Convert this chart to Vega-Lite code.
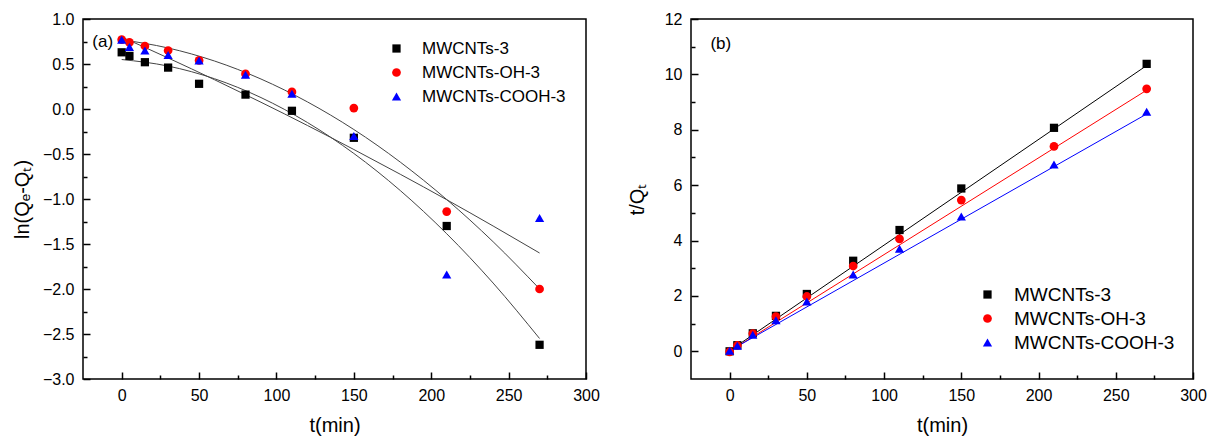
{
  "$schema": "https://vega.github.io/schema/vega-lite/v6.json",
  "padding": {"left": 11, "top": 10, "right": 5, "bottom": 5},
  "background": "white",
  "config": {
    "font": "Liberation Sans",
    "view": {"stroke": "#000", "strokeWidth": 1.5},
    "axis": {
      "grid": false, "domain": false, "tickColor": "#000", "tickWidth": 1.5,
      "labelColor": "#000", "titleColor": "#000", "labelFont": "Liberation Sans", "titleFont": "Liberation Sans",
      "labelFontSize": 16, "titleFontSize": 20, "titleFontWeight": "normal", "labelFlush": false, "labelOverlap": false
    },
    "legend": {"labelFont": "Liberation Sans", "labelColor": "#000", "symbolOpacity": 1, "symbolStrokeWidth": 0, "padding": 0, "labelLimit": 300}
  },
  "datasets": {
    "lnPts": [
      {"series": "MWCNTs-3", "t": 0, "v": 0.63}, {"series": "MWCNTs-3", "t": 5, "v": 0.59}, {"series": "MWCNTs-3", "t": 15, "v": 0.52}, {"series": "MWCNTs-3", "t": 30, "v": 0.46}, {"series": "MWCNTs-3", "t": 50, "v": 0.28}, {"series": "MWCNTs-3", "t": 80, "v": 0.16}, {"series": "MWCNTs-3", "t": 110, "v": -0.02}, {"series": "MWCNTs-3", "t": 150, "v": -0.32}, {"series": "MWCNTs-3", "t": 210, "v": -1.30}, {"series": "MWCNTs-3", "t": 270, "v": -2.62},
      {"series": "MWCNTs-OH-3", "t": 0, "v": 0.77}, {"series": "MWCNTs-OH-3", "t": 5, "v": 0.74}, {"series": "MWCNTs-OH-3", "t": 15, "v": 0.70}, {"series": "MWCNTs-OH-3", "t": 30, "v": 0.65}, {"series": "MWCNTs-OH-3", "t": 50, "v": 0.54}, {"series": "MWCNTs-OH-3", "t": 80, "v": 0.39}, {"series": "MWCNTs-OH-3", "t": 110, "v": 0.19}, {"series": "MWCNTs-OH-3", "t": 150, "v": 0.01}, {"series": "MWCNTs-OH-3", "t": 210, "v": -1.14}, {"series": "MWCNTs-OH-3", "t": 270, "v": -2.0},
      {"series": "MWCNTs-COOH-3", "t": 0, "v": 0.77}, {"series": "MWCNTs-COOH-3", "t": 5, "v": 0.69}, {"series": "MWCNTs-COOH-3", "t": 15, "v": 0.65}, {"series": "MWCNTs-COOH-3", "t": 30, "v": 0.60}, {"series": "MWCNTs-COOH-3", "t": 50, "v": 0.54}, {"series": "MWCNTs-COOH-3", "t": 80, "v": 0.38}, {"series": "MWCNTs-COOH-3", "t": 110, "v": 0.17}, {"series": "MWCNTs-COOH-3", "t": 150, "v": -0.30}, {"series": "MWCNTs-COOH-3", "t": 210, "v": -1.84}, {"series": "MWCNTs-COOH-3", "t": 270, "v": -1.21}
    ],
    "lnFit": [
      {"series": "MWCNTs-3", "t": 0, "v": 0.55}, {"series": "MWCNTs-3", "t": 30, "v": 0.477}, {"series": "MWCNTs-3", "t": 60, "v": 0.336}, {"series": "MWCNTs-3", "t": 90, "v": 0.127}, {"series": "MWCNTs-3", "t": 120, "v": -0.15}, {"series": "MWCNTs-3", "t": 150, "v": -0.494}, {"series": "MWCNTs-3", "t": 180, "v": -0.906}, {"series": "MWCNTs-3", "t": 210, "v": -1.386}, {"series": "MWCNTs-3", "t": 240, "v": -1.934}, {"series": "MWCNTs-3", "t": 270, "v": -2.55},
      {"series": "MWCNTs-OH-3", "t": 0, "v": 0.77}, {"series": "MWCNTs-OH-3", "t": 30, "v": 0.678}, {"series": "MWCNTs-OH-3", "t": 60, "v": 0.533}, {"series": "MWCNTs-OH-3", "t": 90, "v": 0.333}, {"series": "MWCNTs-OH-3", "t": 120, "v": 0.079}, {"series": "MWCNTs-OH-3", "t": 150, "v": -0.228}, {"series": "MWCNTs-OH-3", "t": 180, "v": -0.59}, {"series": "MWCNTs-OH-3", "t": 210, "v": -1.006}, {"series": "MWCNTs-OH-3", "t": 240, "v": -1.475}, {"series": "MWCNTs-OH-3", "t": 270, "v": -1.999},
      {"series": "MWCNTs-COOH-3", "t": 0, "v": 0.80}, {"series": "MWCNTs-COOH-3", "t": 30, "v": 0.567}, {"series": "MWCNTs-COOH-3", "t": 60, "v": 0.325}, {"series": "MWCNTs-COOH-3", "t": 90, "v": 0.075}, {"series": "MWCNTs-COOH-3", "t": 120, "v": -0.183}, {"series": "MWCNTs-COOH-3", "t": 150, "v": -0.45}, {"series": "MWCNTs-COOH-3", "t": 180, "v": -0.725}, {"series": "MWCNTs-COOH-3", "t": 210, "v": -1.008}, {"series": "MWCNTs-COOH-3", "t": 240, "v": -1.30}, {"series": "MWCNTs-COOH-3", "t": 270, "v": -1.60}
    ],
    "tPts": [
      {"series": "MWCNTs-3", "t": 0, "v": 0.0}, {"series": "MWCNTs-3", "t": 5, "v": 0.22}, {"series": "MWCNTs-3", "t": 15, "v": 0.65}, {"series": "MWCNTs-3", "t": 30, "v": 1.28}, {"series": "MWCNTs-3", "t": 50, "v": 2.07}, {"series": "MWCNTs-3", "t": 80, "v": 3.27}, {"series": "MWCNTs-3", "t": 110, "v": 4.38}, {"series": "MWCNTs-3", "t": 150, "v": 5.88}, {"series": "MWCNTs-3", "t": 210, "v": 8.07}, {"series": "MWCNTs-3", "t": 270, "v": 10.38},
      {"series": "MWCNTs-OH-3", "t": 0, "v": -0.02}, {"series": "MWCNTs-OH-3", "t": 5, "v": 0.21}, {"series": "MWCNTs-OH-3", "t": 15, "v": 0.64}, {"series": "MWCNTs-OH-3", "t": 30, "v": 1.25}, {"series": "MWCNTs-OH-3", "t": 50, "v": 1.98}, {"series": "MWCNTs-OH-3", "t": 80, "v": 3.08}, {"series": "MWCNTs-OH-3", "t": 110, "v": 4.06}, {"series": "MWCNTs-OH-3", "t": 150, "v": 5.46}, {"series": "MWCNTs-OH-3", "t": 210, "v": 7.40}, {"series": "MWCNTs-OH-3", "t": 270, "v": 9.48},
      {"series": "MWCNTs-COOH-3", "t": 0, "v": 0.02}, {"series": "MWCNTs-COOH-3", "t": 5, "v": 0.20}, {"series": "MWCNTs-COOH-3", "t": 15, "v": 0.60}, {"series": "MWCNTs-COOH-3", "t": 30, "v": 1.12}, {"series": "MWCNTs-COOH-3", "t": 50, "v": 1.80}, {"series": "MWCNTs-COOH-3", "t": 80, "v": 2.77}, {"series": "MWCNTs-COOH-3", "t": 110, "v": 3.70}, {"series": "MWCNTs-COOH-3", "t": 150, "v": 4.87}, {"series": "MWCNTs-COOH-3", "t": 210, "v": 6.75}, {"series": "MWCNTs-COOH-3", "t": 270, "v": 8.65}
    ],
    "tFit": [
      {"series": "MWCNTs-3", "t": 0, "v": 0.02}, {"series": "MWCNTs-3", "t": 270, "v": 10.32},
      {"series": "MWCNTs-OH-3", "t": 0, "v": 0.0}, {"series": "MWCNTs-OH-3", "t": 270, "v": 9.43},
      {"series": "MWCNTs-COOH-3", "t": 0, "v": 0.02}, {"series": "MWCNTs-COOH-3", "t": 270, "v": 8.57}
    ]
  },
  "hconcat": [
    {
      "width": 503,
      "height": 360,
      "resolve": {"axis": {"x": "independent", "y": "independent"}},
      "layer": [
        {
          "data": {"name": "lnFit"},
          "mark": {"type": "line", "color": "#444444", "strokeWidth": 1, "interpolate": "monotone"},
          "encoding": {
            "x": {"field": "t", "type": "quantitative", "scale": {"domain": [-25, 300], "nice": false, "zero": false}, "axis": {"orient": "bottom", "values": [25, 75, 125, 175, 225, 275], "labels": false, "offset": -4, "tickSize": 4, "title": null}},
            "y": {"field": "v", "type": "quantitative", "scale": {"domain": [-3, 1], "nice": false, "zero": false}, "axis": {"orient": "left", "values": [-2.75, -2.25, -1.75, -1.25, -0.75, -0.25, 0.25, 0.75], "labels": false, "offset": -4, "tickSize": 4, "title": null}},
            "detail": {"field": "series"}
          }
        },
        {
          "data": {"name": "lnPts"},
          "mark": {"type": "point", "filled": true, "opacity": 1, "strokeWidth": 0},
          "encoding": {
            "x": {"field": "t", "type": "quantitative", "axis": {"orient": "bottom", "values": [0, 50, 100, 150, 200, 250, 300], "offset": -7, "tickSize": 7, "labelPadding": 8, "title": "t(min)", "titlePadding": 12}},
            "y": {"field": "v", "type": "quantitative", "axis": {"orient": "left", "values": [-3, -2.5, -2, -1.5, -1, -0.5, 0, 0.5, 1], "format": ".1f", "offset": -7, "tickSize": 7, "labelPadding": 9, "title": "ln(Qₑ-Qₜ)", "titlePadding": 10}},
            "color": {"field": "series", "type": "nominal", "scale": {"domain": ["MWCNTs-3", "MWCNTs-OH-3", "MWCNTs-COOH-3"], "range": ["#000000", "#ff0000", "#0000ff"]}, "legend": {"title": null, "orient": "none", "legendX": 305, "legendY": 21, "labelFontSize": 17, "rowPadding": 6, "labelOffset": 17}},
            "shape": {"field": "series", "type": "nominal", "scale": {"domain": ["MWCNTs-3", "MWCNTs-OH-3", "MWCNTs-COOH-3"], "range": ["square", "circle", "triangle-up"]}, "legend": {"title": null, "orient": "none", "legendX": 305, "legendY": 21, "labelFontSize": 17, "rowPadding": 6, "labelOffset": 17}},
            "size": {"field": "series", "type": "nominal", "scale": {"domain": ["MWCNTs-3", "MWCNTs-OH-3", "MWCNTs-COOH-3"], "range": [68, 85, 105]}, "legend": {"title": null, "orient": "none", "legendX": 305, "legendY": 21, "labelFontSize": 17, "rowPadding": 6, "labelOffset": 17}}
          }
        },
        {
          "data": {"values": [{"t": -19, "v": 0.75, "label": "(a)"}]},
          "mark": {"type": "text", "align": "left", "baseline": "middle", "fontSize": 17, "font": "Liberation Sans", "color": "#000"},
          "encoding": {
            "x": {"field": "t", "type": "quantitative", "axis": null},
            "y": {"field": "v", "type": "quantitative", "axis": null},
            "text": {"field": "label"}
          }
        }
      ]
    },
    {
      "width": 502,
      "height": 360,
      "resolve": {"axis": {"x": "independent", "y": "independent"}},
      "layer": [
        {
          "data": {"name": "tFit"},
          "transform": [{"filter": "datum.series === 'MWCNTs-3'"}],
          "mark": {"type": "line", "strokeWidth": 1, "color": "#000000"},
          "encoding": {
            "x": {"field": "t", "type": "quantitative", "scale": {"domain": [-25, 300], "nice": false, "zero": false}, "axis": {"orient": "bottom", "values": [25, 75, 125, 175, 225, 275], "labels": false, "offset": -4, "tickSize": 4, "title": null}},
            "y": {"field": "v", "type": "quantitative", "scale": {"domain": [-1, 12], "nice": false, "zero": false}, "axis": {"orient": "left", "values": [1, 3, 5, 7, 9, 11], "labels": false, "offset": -4, "tickSize": 4, "title": null}}
          }
        },
        {
          "data": {"name": "tFit"},
          "transform": [{"filter": "datum.series === 'MWCNTs-OH-3'"}],
          "mark": {"type": "line", "strokeWidth": 1, "color": "#ff0000"},
          "encoding": {
            "x": {"field": "t", "type": "quantitative", "axis": null},
            "y": {"field": "v", "type": "quantitative", "axis": null}
          }
        },
        {
          "data": {"name": "tFit"},
          "transform": [{"filter": "datum.series === 'MWCNTs-COOH-3'"}],
          "mark": {"type": "line", "strokeWidth": 1, "color": "#0000ff"},
          "encoding": {
            "x": {"field": "t", "type": "quantitative", "axis": null},
            "y": {"field": "v", "type": "quantitative", "axis": null}
          }
        },
        {
          "data": {"name": "tPts"},
          "mark": {"type": "point", "filled": true, "opacity": 1, "strokeWidth": 0},
          "encoding": {
            "x": {"field": "t", "type": "quantitative", "axis": {"orient": "bottom", "values": [0, 50, 100, 150, 200, 250, 300], "offset": -7, "tickSize": 7, "labelPadding": 8, "title": "t(min)", "titlePadding": 12}},
            "y": {"field": "v", "type": "quantitative", "axis": {"orient": "left", "values": [0, 2, 4, 6, 8, 10, 12], "format": "d", "offset": -7, "tickSize": 7, "labelPadding": 9, "title": "t/Qₜ", "titlePadding": 17}},
            "color": {"field": "series", "type": "nominal", "scale": {"domain": ["MWCNTs-3", "MWCNTs-OH-3", "MWCNTs-COOH-3"], "range": ["#000000", "#ff0000", "#0000ff"]}, "legend": {"title": null, "orient": "none", "legendX": 287, "legendY": 266, "labelFontSize": 19, "rowPadding": 4, "labelOffset": 17}},
            "shape": {"field": "series", "type": "nominal", "scale": {"domain": ["MWCNTs-3", "MWCNTs-OH-3", "MWCNTs-COOH-3"], "range": ["square", "circle", "triangle-up"]}, "legend": {"title": null, "orient": "none", "legendX": 287, "legendY": 266, "labelFontSize": 19, "rowPadding": 4, "labelOffset": 17}},
            "size": {"field": "series", "type": "nominal", "scale": {"domain": ["MWCNTs-3", "MWCNTs-OH-3", "MWCNTs-COOH-3"], "range": [68, 85, 105]}, "legend": {"title": null, "orient": "none", "legendX": 287, "legendY": 266, "labelFontSize": 19, "rowPadding": 4, "labelOffset": 17}}
          }
        },
        {
          "data": {"values": [{"t": -12.4, "v": 11.1, "label": "(b)"}]},
          "mark": {"type": "text", "align": "left", "baseline": "middle", "fontSize": 17, "font": "Liberation Sans", "color": "#000"},
          "encoding": {
            "x": {"field": "t", "type": "quantitative", "axis": null},
            "y": {"field": "v", "type": "quantitative", "axis": null},
            "text": {"field": "label"}
          }
        }
      ]
    }
  ],
  "spacing": 105,
  "bounds": "flush",
  "resolve": {
    "scale": {"color": "independent", "shape": "independent", "size": "independent"},
    "legend": {"color": "independent", "shape": "independent", "size": "independent"}
  }
}
